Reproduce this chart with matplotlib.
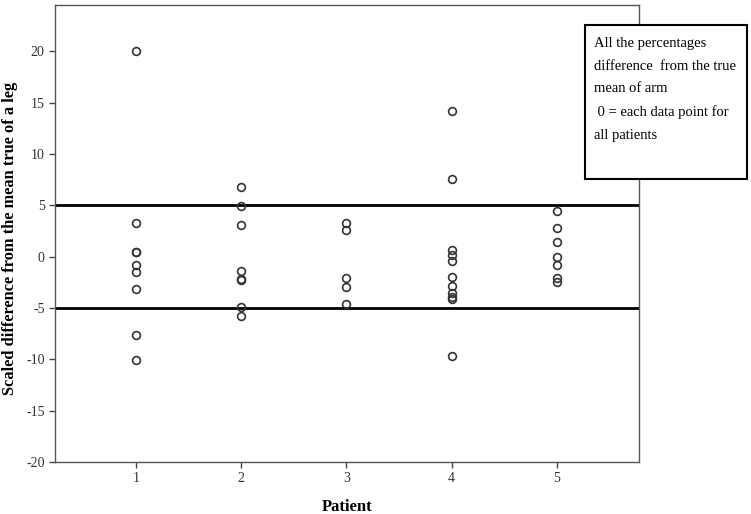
import matplotlib
matplotlib.use("Agg")
import matplotlib.pyplot as plt
from matplotlib.patches import Rectangle

plt.rcParams['font.family'] = ['Liberation Serif', 'DejaVu Serif']
plt.rcParams['axes.unicode_minus'] = False

# values, one list per patient
patient_1 = [20.0, 3.3, 0.4, 0.4, -0.8, -1.5, -3.2, -7.6, -10.1]
patient_2 = [6.8, 4.9, 3.1, -1.4, -2.2, -2.3, -4.9, -5.8]
patient_3 = [3.3, 2.6, -2.1, -3.0, -4.6]
patient_4 = [14.2, 7.6, 0.6, 0.2, -0.4, -2.0, -2.9, -3.5, -3.9, -4.1, -9.7]
patient_5 = [4.4, 2.8, 1.4, 0.0, -0.8, -2.1, -2.5]
patients = [1, 2, 3, 4, 5]
limits = [-5, 5]

legend_lines = [
    "All the percentages",
    "difference  from the true",
    "mean of arm",
    " 0 = each data point for",
    "all patients",
]

fig = plt.figure(figsize=(7.51, 5.14), dpi=100)
ax = fig.add_axes([0.0732, 0.1012, 0.7777, 0.8891])

for p, vals in zip(patients, [patient_1, patient_2, patient_3, patient_4, patient_5]):
    ax.plot([p] * len(vals), vals, linestyle='none', marker='o', markersize=5.6,
            markerfacecolor='none', markeredgecolor='#333333', markeredgewidth=1.2)

for lim in limits:
    ax.axhline(lim, color='black', linewidth=2.0, zorder=1)

ax.set_xlim(0.23, 5.78)
ax.set_ylim(-20, 24.5)
ax.set_xticks(patients)
ax.set_yticks(range(-20, 21, 5))
ax.tick_params(direction='out', length=4, width=1, colors='#444444', labelsize=10,
               labelcolor='#333333')
for s in ax.spines.values():
    s.set_color('#555555')
    s.set_linewidth(1.0)

ax.set_xlabel("Patient", fontsize=12, fontweight='bold', labelpad=10)
ax.set_ylabel("Scaled difference from the mean true of a leg", fontsize=11.8,
              fontweight='bold')
ax.yaxis.set_label_coords(-0.064, 0.49)

# explanatory text box on the right
W, H = 751, 514
fig.patches.append(Rectangle((585 / W, 1 - 179 / H), 162 / W, 154 / H,
                             transform=fig.transFigure, fill=True,
                             facecolor='white', edgecolor='black', linewidth=1.5))
for i, line in enumerate(legend_lines):
    fig.text(594 / W, 1 - (43 + 23 * i) / H, line, fontsize=10.5,
             va='center', ha='left')

fig.savefig("out.png", dpi=100)
